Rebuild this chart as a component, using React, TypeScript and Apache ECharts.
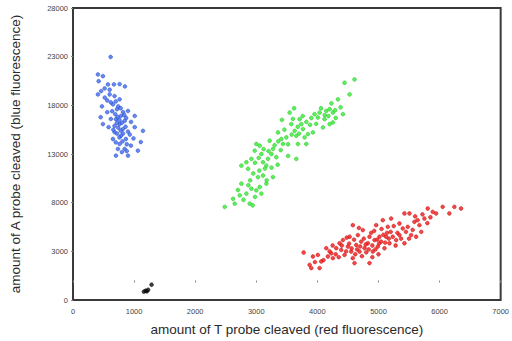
import React, { useEffect, useRef } from "react";
import * as echarts from "echarts";

const xTickLabels = ["0", "1000", "2000", "3000", "4000", "5000", "6000", "7000"];
const yTickValues = [-2000, 3000, 8000, 13000, 18000, 23000, 28000];
const yTickLabels = ["0", "3000", "8000", "13000", "18000", "23000", "28000"];

const bluePoints: number[][] = [
  [616, 22970], [408, 21170], [490, 21000], [420, 20480], [572, 20150], [670, 20150],
  [763, 20180], [850, 19940], [460, 19460], [518, 19740], [408, 19120], [600, 19120],
  [680, 18950], [763, 18620], [474, 17900], [654, 18100], [720, 17600], [900, 17420],
  [1010, 16910], [453, 16780], [785, 16910], [703, 16570], [845, 16400], [763, 16070],
  [583, 15760], [490, 16070], [817, 15560], [680, 15250], [1010, 15760], [785, 14870],
  [654, 14540], [866, 14540], [763, 14030], [948, 13860], [845, 13520], [1110, 14230],
  [1062, 13340], [735, 13520], [900, 12830], [703, 12830], [1145, 15380], [560, 18500],
  [620, 18300], [700, 18400], [740, 17900], [780, 17700], [820, 17300], [640, 17400],
  [690, 17100], [730, 16800], [760, 16500], [800, 16200], [840, 17000], [870, 16700],
  [720, 16200], [680, 15900], [740, 15700], [780, 15400], [820, 15100], [860, 15800],
  [900, 15300], [720, 15100], [760, 14700], [810, 14300], [880, 14000], [930, 15000],
  [620, 16600], [560, 17300], [600, 19600], [520, 18800], [950, 16300], [990, 14600],
  [700, 14200], [800, 13200], [660, 15500], [880, 13300],
];

const greenPoints: number[][] = [
  [2484, 7570], [2647, 7900], [2729, 8750], [2892, 7900], [2941, 7730], [2838, 8930],
  [2756, 9950], [2920, 9440], [3001, 9270], [3056, 9610], [3165, 9950], [3110, 10790],
  [3028, 10630], [3273, 10630], [2756, 11810], [2865, 11480], [2838, 12160], [2920, 12500],
  [2974, 13340], [3001, 14030], [3056, 13850], [3083, 13000], [3110, 12160], [3165, 11810],
  [3192, 12500], [3247, 13000], [3273, 13520], [3328, 12670], [3219, 14360], [3355, 15220],
  [3410, 14540], [3437, 14030], [3492, 14710], [3546, 17260], [3573, 16070], [3628, 15380],
  [3655, 14870], [3682, 14030], [3710, 16580], [3737, 16070], [3764, 15560], [3791, 14710],
  [3818, 14030], [3655, 12500], [3845, 15050], [3927, 15220], [3954, 17090], [4008, 16750],
  [4036, 17260], [4118, 16580], [4145, 17420], [4200, 17600], [4254, 17260], [4091, 15730],
  [4200, 16070], [4254, 16240], [4336, 18620], [4418, 17090], [4445, 20320], [4527, 19120],
  [4608, 20660], [3083, 8930], [2790, 8300], [2980, 8600], [2700, 9300], [3050, 11300],
  [2950, 11000], [3140, 11500], [2900, 10300], [3200, 13300], [3120, 13500], [3040, 12600],
  [2980, 12100], [3300, 13900], [3360, 14300], [3250, 11600], [3400, 13400], [3520, 14000],
  [3580, 15000], [3460, 15500], [3600, 16600], [3680, 15800], [3700, 15100], [3760, 16900],
  [3820, 16300], [3880, 16000], [3900, 16700], [3980, 16100], [4060, 17700], [4120, 17000],
  [4180, 16900], [4290, 17500], [4230, 18200], [4380, 17800], [4300, 16700], [3520, 12800],
  [3350, 11900], [2870, 9800], [2620, 8400], [3170, 10300], [3420, 16500], [3620, 17700],
];

const redPoints: number[][] = [
  [3775, 2880], [3873, 1610], [3900, 1280], [3927, 2470], [4008, 2630], [4036, 1280],
  [4063, 1960], [4145, 3320], [4172, 2470], [4227, 2800], [4254, 2300], [4309, 3320],
  [4363, 3830], [4390, 3140], [4418, 4160], [4445, 2630], [4499, 3490], [4527, 4500],
  [4554, 2980], [4581, 5690], [4608, 1790], [4636, 3650], [4663, 4670], [4690, 2980],
  [4717, 4000], [4744, 5180], [4772, 3320], [4826, 3830], [4853, 1790], [4853, 4500],
  [4907, 2980], [4935, 4160], [4962, 5690], [4989, 3490], [5016, 4500], [5044, 4000],
  [5071, 6200], [5098, 3320], [5125, 4500], [5153, 5520], [5180, 3830], [5207, 6370],
  [5234, 4500], [5289, 4160], [5343, 5860], [5398, 5350], [5425, 3830], [5479, 5520],
  [5507, 6890], [5534, 4670], [5588, 6030], [5616, 4500], [5670, 5690], [5752, 6370],
  [5806, 7400], [5888, 7060], [5943, 6890], [6051, 7570], [6160, 6890], [6242, 7570],
  [6351, 7400], [5425, 6890], [5343, 4670], [4100, 2100], [4200, 3000], [4300, 2700],
  [4350, 2400], [4400, 3600], [4470, 3000], [4520, 3800], [4560, 3300], [4600, 4200],
  [4620, 2700], [4650, 3200], [4700, 3500], [4730, 2500], [4760, 4300], [4790, 3700],
  [4800, 2900], [4840, 3200], [4880, 4900], [4900, 3600], [4930, 5100], [4950, 3200],
  [4980, 4200], [5010, 3800], [5050, 5300], [5080, 4700], [5110, 3900], [5140, 4900],
  [5170, 4300], [5200, 5000], [5250, 5600], [5280, 3600], [5310, 4900], [5370, 4300],
  [5450, 5000], [5500, 4300], [5560, 5200], [5640, 6200], [5700, 5000], [5720, 6800],
  [5800, 5900], [5850, 6500], [4480, 4400], [4580, 2300], [4680, 5400], [4900, 2400],
  [3960, 1900], [4250, 3600], [5000, 2700], [5600, 6600],
];

const blackPoints: number[][] = [
  [1160, -1150], [1190, -1050], [1210, -1100], [1230, -950], [1286, -430],
];

export default function App() {
  const ref = useRef<HTMLDivElement>(null);
  useEffect(() => {
    if (!ref.current) return;
    const chart = echarts.init(ref.current, undefined, { renderer: "svg" });
    const dot = (name: string, data: number[][], color: string, border: string) => ({
      name,
      type: "scatter",
      data,
      symbol: "circle",
      symbolSize: 3.8,
      itemStyle: { color, borderColor: border, borderWidth: 0.6 },
      silent: true,
    });
    chart.setOption({
      animation: false,
      backgroundColor: "#ffffff",
      textStyle: { fontFamily: "Liberation Sans, Arial, sans-serif" },
      grid: {
        left: 73,
        right: 11,
        top: 8,
        bottom: 39,
        show: true,
        borderColor: "#3a3a3a",
        borderWidth: 2,
        backgroundColor: "transparent",
      },
      xAxis: {
        type: "value",
        min: 0,
        max: 7000,
        interval: 1000,
        splitLine: { show: false },
        axisLine: { show: false },
        axisTick: { show: true, length: 2, lineStyle: { color: "#888" } },
        axisLabel: {
          color: "#444",
          fontSize: 7.5,
          margin: 7,
          formatter: (v: number) => xTickLabels[Math.round(v / 1000)] ?? String(v),
        },
        name: "amount of T probe cleaved (red fluorescence)",
        nameLocation: "middle",
        nameGap: 22,
        nameTextStyle: { color: "#2a2a2a", fontSize: 13.5 },
      },
      yAxis: {
        type: "value",
        min: -2000,
        max: 28000,
        splitLine: { show: false },
        axisLine: { show: false },
        axisTick: { show: true, length: 2, customValues: yTickValues, lineStyle: { color: "#888" } },
        axisLabel: {
          color: "#444",
          fontSize: 7.5,
          margin: 5,
          customValues: yTickValues,
          formatter: (v: number) => {
            const i = yTickValues.indexOf(v);
            return i >= 0 ? yTickLabels[i] : String(v);
          },
        },
        name: "amount of A probe cleaved (blue fluorescence)",
        nameLocation: "middle",
        nameGap: 51,
        nameTextStyle: { color: "#2a2a2a", fontSize: 13.5 },
      },
      series: [
        dot("blue", bluePoints, "#3f6cf0", "#2848c0"),
        dot("green", greenPoints, "#33ee33", "#22bb22"),
        dot("red", redPoints, "#f01818", "#c01010"),
        dot("black", blackPoints, "#111111", "#000000"),
      ],
    });
    return () => chart.dispose();
  }, []);
  return (
    <div
      ref={ref}
      style={{ position: "absolute", left: 0, top: 0, width: 512, height: 341 }}
    />
  );
}
